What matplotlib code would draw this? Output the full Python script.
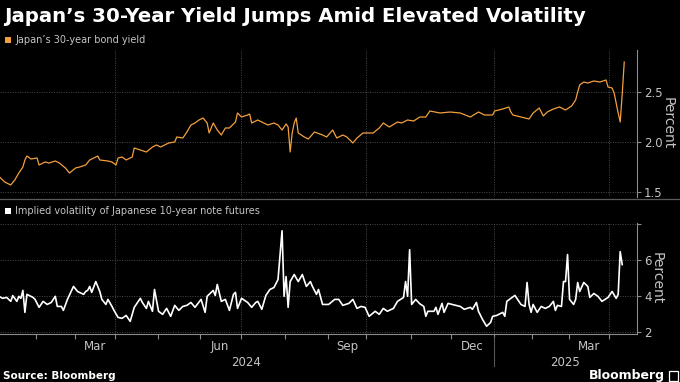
import matplotlib
matplotlib.use("Agg")
import matplotlib.pyplot as plt
from matplotlib.patches import Rectangle
from matplotlib.lines import Line2D
import matplotlib.transforms as mtransforms
import pandas as pd
import numpy as np

# ---------------- data ----------------
jp_holidays = ['2024-01-01', '2024-01-02', '2024-01-03', '2024-01-08', '2024-02-12', '2024-02-23',
               '2024-03-20', '2024-04-29', '2024-05-03', '2024-05-06', '2024-07-15', '2024-08-12',
               '2024-09-16', '2024-09-23', '2024-10-14', '2024-11-04', '2024-12-31', '2025-01-01',
               '2025-01-02', '2025-01-03', '2025-01-13', '2025-02-11', '2025-02-24', '2025-03-20',
               '2025-04-29']

yield_dates = ['2024-01-04', '2024-01-10', '2024-01-15', '2024-01-17', '2024-01-19', '2024-01-23', '2024-01-24',
               '2024-01-25', '2024-01-29', '2024-02-01', '2024-02-02', '2024-02-07', '2024-02-09', '2024-02-15',
               '2024-02-19', '2024-02-22', '2024-02-27', '2024-03-01', '2024-03-05', '2024-03-08', '2024-03-12',
               '2024-03-18', '2024-03-19', '2024-03-26', '2024-03-28', '2024-04-01', '2024-04-02', '2024-04-04',
               '2024-04-08', '2024-04-11', '2024-04-12', '2024-04-17', '2024-04-22', '2024-04-25', '2024-04-30',
               '2024-05-02', '2024-05-10', '2024-05-15', '2024-05-16', '2024-05-21', '2024-05-23', '2024-05-27',
               '2024-05-29', '2024-05-31', '2024-06-04', '2024-06-06', '2024-06-07', '2024-06-11', '2024-06-13',
               '2024-06-17', '2024-06-19', '2024-06-21', '2024-06-26', '2024-06-27', '2024-07-01', '2024-07-04',
               '2024-07-05', '2024-07-08', '2024-07-11', '2024-07-17', '2024-07-19', '2024-07-24', '2024-07-26',
               '2024-07-30', '2024-08-01', '2024-08-02', '2024-08-05', '2024-08-06', '2024-08-07', '2024-08-08',
               '2024-08-09', '2024-08-15', '2024-08-19', '2024-08-22', '2024-08-28', '2024-08-30', '2024-09-04',
               '2024-09-06', '2024-09-11', '2024-09-13', '2024-09-19', '2024-09-24', '2024-09-27', '2024-10-01',
               '2024-10-04', '2024-10-09', '2024-10-11', '2024-10-17', '2024-10-23', '2024-10-25', '2024-10-30',
               '2024-11-05', '2024-11-08', '2024-11-13', '2024-11-15', '2024-11-22', '2024-11-29', '2024-12-06',
               '2024-12-13', '2024-12-19', '2024-12-24', '2024-12-30', '2025-01-06', '2025-01-10', '2025-01-16',
               '2025-01-17', '2025-01-20', '2025-01-24', '2025-01-30', '2025-02-03', '2025-02-06', '2025-02-10',
               '2025-02-13', '2025-02-18', '2025-02-21', '2025-02-27', '2025-03-04', '2025-03-06', '2025-03-07',
               '2025-03-10', '2025-03-12', '2025-03-14', '2025-03-19', '2025-03-25', '2025-03-28', '2025-03-31',
               '2025-04-02', '2025-04-03', '2025-04-04', '2025-04-07', '2025-04-08', '2025-04-09', '2025-04-10']
yield_pct = [1.66, 1.60, 1.57, 1.62, 1.69, 1.75, 1.82, 1.86, 1.83, 1.84, 1.77, 1.80, 1.79, 1.81,
             1.79, 1.74, 1.69, 1.74, 1.75, 1.77, 1.82, 1.86, 1.82, 1.81, 1.80, 1.77, 1.84, 1.85,
             1.82, 1.85, 1.94, 1.92, 1.90, 1.95, 1.97, 1.95, 1.99, 2.00, 2.05, 2.04, 2.10, 2.17,
             2.19, 2.22, 2.24, 2.19, 2.09, 2.19, 2.12, 2.07, 2.14, 2.14, 2.20, 2.29, 2.25, 2.27,
             2.28, 2.19, 2.22, 2.19, 2.17, 2.19, 2.17, 2.12, 2.18, 2.15, 1.90, 2.09, 2.19, 2.24,
             2.09, 2.05, 2.03, 2.10, 2.07, 2.05, 2.12, 2.04, 2.07, 2.05, 1.99, 2.04, 2.09, 2.09,
             2.09, 2.14, 2.19, 2.15, 2.20, 2.19, 2.22, 2.21, 2.25, 2.25, 2.31, 2.29, 2.30, 2.29,
             2.25, 2.30, 2.27, 2.27, 2.31, 2.33, 2.35, 2.30, 2.27, 2.25, 2.23, 2.29, 2.34, 2.26,
             2.30, 2.33, 2.35, 2.32, 2.36, 2.42, 2.50, 2.57, 2.60, 2.59, 2.61, 2.60, 2.62, 2.55,
             2.54, 2.49, 2.39, 2.29, 2.20, 2.48, 2.80]

vol_dates = ['2024-01-04', '2024-01-09', '2024-01-11', '2024-01-15', '2024-01-16', '2024-01-18', '2024-01-19',
             '2024-01-22', '2024-01-23', '2024-01-24', '2024-01-25', '2024-01-30', '2024-01-31', '2024-02-02',
             '2024-02-06', '2024-02-08', '2024-02-13', '2024-02-15', '2024-02-16', '2024-02-20', '2024-02-21',
             '2024-02-26', '2024-02-29', '2024-03-04', '2024-03-07', '2024-03-08', '2024-03-11', '2024-03-12',
             '2024-03-13', '2024-03-15', '2024-03-19', '2024-03-21', '2024-03-25', '2024-03-26', '2024-03-28',
             '2024-03-29', '2024-04-02', '2024-04-04', '2024-04-08', '2024-04-10', '2024-04-12', '2024-04-17',
             '2024-04-18', '2024-04-22', '2024-04-23', '2024-04-25', '2024-04-26', '2024-05-01', '2024-05-07',
             '2024-05-09', '2024-05-13', '2024-05-15', '2024-05-17', '2024-05-21', '2024-05-23', '2024-05-27',
             '2024-05-29', '2024-06-03', '2024-06-05', '2024-06-06', '2024-06-07', '2024-06-11', '2024-06-12',
             '2024-06-13', '2024-06-17', '2024-06-19', '2024-06-21', '2024-06-25', '2024-06-26', '2024-06-27',
             '2024-07-01', '2024-07-04', '2024-07-08', '2024-07-10', '2024-07-11', '2024-07-16', '2024-07-18',
             '2024-07-22', '2024-07-24', '2024-07-26', '2024-07-30', '2024-07-31', '2024-08-01', '2024-08-02',
             '2024-08-05', '2024-08-07', '2024-08-09', '2024-08-14', '2024-08-16', '2024-08-20', '2024-08-21',
             '2024-08-23', '2024-08-26', '2024-08-28', '2024-09-02', '2024-09-05', '2024-09-09', '2024-09-11',
             '2024-09-17', '2024-09-19', '2024-09-24', '2024-09-26', '2024-09-30', '2024-10-02', '2024-10-07',
             '2024-10-09', '2024-10-11', '2024-10-16', '2024-10-21', '2024-10-23', '2024-10-28', '2024-10-29',
             '2024-10-30', '2024-10-31', '2024-11-01', '2024-11-06', '2024-11-08', '2024-11-12', '2024-11-13',
             '2024-11-14', '2024-11-19', '2024-11-20', '2024-11-21', '2024-11-25', '2024-11-26', '2024-11-28',
             '2024-12-02', '2024-12-06', '2024-12-10', '2024-12-13', '2024-12-16', '2024-12-18', '2024-12-19',
             '2024-12-23', '2024-12-25', '2024-12-27', '2024-12-30', '2025-01-07', '2025-01-10', '2025-01-14',
             '2025-01-15', '2025-01-17', '2025-01-21', '2025-01-24', '2025-01-28', '2025-01-29', '2025-01-30',
             '2025-01-31', '2025-02-03', '2025-02-05', '2025-02-07', '2025-02-12', '2025-02-14', '2025-02-18',
             '2025-02-19', '2025-02-20', '2025-02-25', '2025-02-26', '2025-02-27', '2025-02-28', '2025-03-03',
             '2025-03-05', '2025-03-06', '2025-03-07', '2025-03-10', '2025-03-12', '2025-03-14', '2025-03-17',
             '2025-03-19', '2025-03-24', '2025-03-26', '2025-03-31', '2025-04-02', '2025-04-04', '2025-04-07',
             '2025-04-08', '2025-04-09']
vol_pct = [3.97, 3.85, 3.90, 3.68, 4.00, 3.68, 3.96, 3.85, 4.29, 3.07, 4.07, 3.90, 3.79, 3.35,
           3.68, 3.51, 3.62, 3.96, 3.40, 3.40, 3.18, 3.79, 4.51, 4.23, 4.07, 4.23, 4.29, 4.51,
           4.18, 4.78, 4.23, 3.79, 3.51, 3.79, 3.40, 3.18, 2.79, 2.74, 2.90, 2.57, 3.35, 3.85,
           3.62, 3.29, 3.68, 3.13, 4.34, 3.13, 2.96, 3.29, 2.85, 3.46, 3.18, 3.40, 3.46, 3.62,
           3.35, 3.79, 3.07, 3.96, 4.07, 4.29, 4.01, 4.62, 3.68, 3.79, 3.18, 4.07, 4.18, 3.29,
           3.85, 3.62, 3.35, 3.62, 3.68, 3.24, 4.01, 4.34, 4.45, 4.89, 7.60, 3.96, 5.06, 3.35,
           4.78, 5.17, 4.78, 5.17, 4.51, 4.78, 4.51, 4.07, 4.34, 3.51, 3.51, 3.79, 3.79, 3.46,
           3.57, 3.79, 3.29, 3.40, 3.35, 2.85, 3.13, 2.96, 3.29, 3.13, 3.29, 3.68, 3.90, 4.78,
           3.96, 6.55, 3.51, 3.79, 3.55, 3.40, 2.85, 3.13, 3.13, 3.35, 2.96, 3.57, 3.07, 3.57,
           3.51, 3.40, 3.24, 3.35, 3.24, 3.62, 3.13, 2.68, 2.30, 2.51, 2.85, 2.90, 3.07, 2.85,
           3.68, 3.85, 4.01, 3.51, 3.40, 4.73, 3.51, 3.07, 3.51, 3.07, 3.40, 3.29, 3.40, 3.68,
           3.18, 3.46, 3.40, 4.78, 4.78, 6.28, 3.79, 3.51, 3.79, 4.73, 4.23, 4.73, 4.51, 3.90,
           4.12, 3.96, 3.68, 3.90, 4.23, 3.85, 4.07, 6.44, 5.72]

month_labels = ['Mar', 'Jun', 'Sep', 'Dec', 'Mar']
month_label_months = ['2024-03', '2024-06', '2024-09', '2024-12', '2025-03']
year_labels = ['2024', '2025']
top_ticks = [1.5, 2.0, 2.5]
bottom_ticks = [2, 4, 6, 8]
bottom_tick_labels = ['2', '4', '6', '']

title = "Japan\u2019s 30-Year Yield Jumps Amid Elevated Volatility"
legend_top = "Japan\u2019s 30-year bond yield"
legend_bottom = "Implied volatility of Japanese 10-year note futures"
source = "Source: Bloomberg"

# ---------------- trading-day axis ----------------
sessions = pd.bdate_range('2024-01-04', '2025-04-30', freq='C', holidays=jp_holidays)
y_pos = sessions.get_indexer(pd.to_datetime(yield_dates))
v_pos = sessions.get_indexer(pd.to_datetime(vol_dates))

months = pd.period_range('2024-02', '2025-04', freq='M')
month_bounds = [sessions.searchsorted(m.start_time) - 0.5 for m in months]
quarter_bounds = [sessions.searchsorted(m.start_time) - 0.5 for m in months if m.month in (1, 4, 7, 10)]
label_pos = []
for m in month_label_months:
    p = pd.Period(m, freq='M')
    a = sessions.searchsorted(p.start_time)
    b = sessions.searchsorted(p.end_time) - 1
    label_pos.append((a + b) / 2)
year_start_2025 = sessions.searchsorted(pd.Timestamp('2025-01-01')) - 0.5
XMAX = 315.3
year_pos = [(0 + year_start_2025) / 2, (year_start_2025 + XMAX) / 2]

# ---------------- style ----------------
BG = '#000000'
ORANGE = '#f2a03d'
GRID = '#4a4a4a'
AXIS = '#8c8c8c'
TICKTXT = '#c4c4c4'

W, H = 680, 382
fig = plt.figure(figsize=(6.8, 3.82), dpi=100, facecolor=BG)

def fx(px):
    return px / W

def fy(py):
    return 1 - py / H

ax1 = fig.add_axes([0, fy(197), fx(637), (197 - 50) / H])
ax2 = fig.add_axes([0, fy(334), fx(637), (334 - 223) / H])

for ax in (ax1, ax2):
    ax.set_facecolor(BG)
    for s in ('top', 'left', 'bottom'):
        ax.spines[s].set_visible(False)
    ax.spines['right'].set_color(AXIS)
    ax.spines['right'].set_linewidth(0.8)
    ax.yaxis.tick_right()
    ax.tick_params(axis='y', colors=AXIS, labelcolor=TICKTXT, length=3, width=0.8,
                   labelsize=8.5, pad=2)
    ax.set_xlim(0.7, XMAX)
    ax.set_xticks(quarter_bounds)
    ax.grid(True, color=GRID, linestyle=(0, (1, 1.5)), linewidth=0.7)
    ax.set_axisbelow(True)
    ax.yaxis.set_label_position('right')
    ax.set_ylabel('Percent', rotation=270, color=TICKTXT, fontsize=10, labelpad=9)

# top panel
ax1.plot(y_pos, yield_pct, color=ORANGE, linewidth=0.9)
ax1.set_ylim(1.45, 2.92)
ax1.set_yticks(top_ticks)
ax1.set_yticklabels([f'{t:.1f}' for t in top_ticks])
ax1.tick_params(axis='x', length=0, labelbottom=False)

# bottom panel
ax2.plot(v_pos, vol_pct, color='white', linewidth=1.2)
ax2.set_ylim(1.87, 8.03)
ax2.set_yticks(bottom_ticks)
ax2.set_yticklabels(bottom_tick_labels)
ax2.spines['bottom'].set_visible(True)
ax2.spines['bottom'].set_color(AXIS)
ax2.spines['bottom'].set_linewidth(0.8)
ax2.set_xticks(label_pos)
ax2.set_xticklabels(month_labels)
ax2.set_xticks(month_bounds, minor=True)
ax2.tick_params(axis='x', which='major', length=0, labelsize=8.5, labelcolor=TICKTXT, pad=4)
ax2.tick_params(axis='x', which='minor', length=3.5, color=AXIS, width=0.8)
ax2.xaxis.grid(False)
for q in quarter_bounds:
    ax2.axvline(q, color=GRID, linestyle=(0, (1, 1.5)), linewidth=0.7, zorder=0)

# year labels
trans = mtransforms.blended_transform_factory(ax2.transData, fig.transFigure)
for lbl, p in zip(year_labels, year_pos):
    ax2.text(p, fy(362), lbl, transform=trans, ha='center', va='center',
             fontsize=8.5, color=TICKTXT, clip_on=False)
ax2.add_line(Line2D([year_start_2025, year_start_2025], [fy(337), fy(366)], transform=trans,
                    color='#555555', linewidth=0.8, clip_on=False))

# separator line between panels
fig.add_artist(Line2D([0, 1], [fy(198.5), fy(198.5)], color='#5a5a5a', linewidth=0.9))

# title and legends
fig.text(fx(4), fy(16), title, color='white', fontsize=14.2, fontweight='bold',
         ha='left', va='center')
fig.add_artist(Rectangle((fx(5), fy(43)), fx(6), 6 / H, color=ORANGE, lw=0))
fig.text(fx(15), fy(40), legend_top, color=TICKTXT, fontsize=7, ha='left', va='center')
fig.add_artist(Rectangle((fx(5), fy(214)), fx(6), 6 / H, color='white', lw=0))
fig.text(fx(15), fy(211), legend_bottom, color=TICKTXT, fontsize=7, ha='left', va='center')

# footer
fig.text(fx(3), fy(376), source, color='white', fontsize=7.5, fontweight='bold',
         ha='left', va='center')
fig.text(fx(665), fy(375), 'Bloomberg', color='white', fontsize=9, fontweight='bold',
         ha='right', va='center')
fig.add_artist(Rectangle((fx(669), fy(381)), fx(9), 10 / H, facecolor='none',
                         edgecolor='white', lw=0.9))

fig.savefig('out.png', dpi=100, facecolor=BG)
